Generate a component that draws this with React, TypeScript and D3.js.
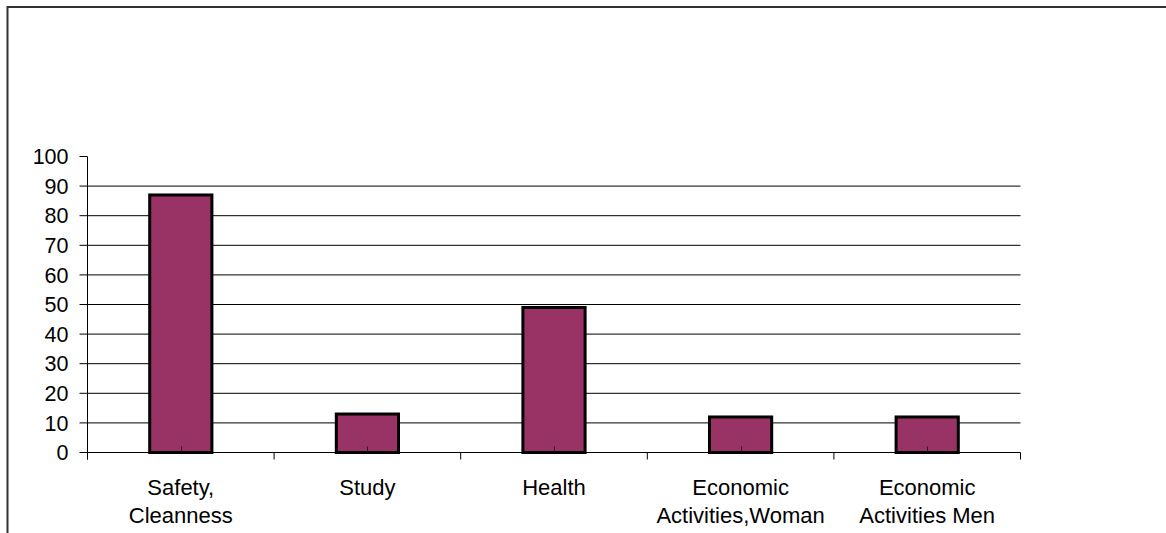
import React from "react";
import * as d3 from "d3";

// Category labels (each split into its display lines) and their values
const categories: string[][] = [
  ["Safety,", "Cleanness"],
  ["Study"],
  ["Health"],
  ["Economic", "Activities,Woman"],
  ["Economic", "Activities Men"],
];
const values: number[] = [87, 13, 49, 12, 12];
const yTicks: number[] = [0, 10, 20, 30, 40, 50, 60, 70, 80, 90, 100];

const W = 1166;
const H = 533;
const FONT = "'Liberation Sans', Arial, sans-serif";

export default function App() {
  const left = 87.5;
  const right = 1020.5;
  const top = 156.5;
  const bottom = 452.5;

  const keys = categories.map((_, i) => String(i));
  const x = d3.scaleBand<string>().domain(keys).range([left, right]).paddingInner(0).paddingOuter(0);
  const y = d3.scaleLinear().domain([0, 100]).range([bottom, top]);

  const bw = x.bandwidth();
  const barW = bw / 3;
  const boundaries = keys.map((k) => x(k) as number).concat([right]);

  return (
    <svg
      width={W}
      height={H}
      style={{ position: "absolute", left: 0, top: 0, background: "#fff" }}
      fontFamily={FONT}
    >
      {/* chart frame (extends past the visible area) */}
      <rect x={7.5} y={7} width={1400} height={800} fill="none" stroke="#333" strokeWidth={2} />

      {/* horizontal gridlines (none at the top value) */}
      {yTicks
        .filter((t) => t !== 0 && t !== 100)
        .map((t) => (
          <line key={"g" + t} x1={left} x2={right} y1={y(t)} y2={y(t)} stroke="#000" strokeWidth={1} />
        ))}

      {/* bars */}
      {values.map((v, i) => {
        const cx = (x(String(i)) as number) + bw / 2;
        return (
          <g key={"b" + i}>
            <rect
              x={cx - barW / 2}
              y={y(v)}
              width={barW}
              height={y(0) - y(v)}
              fill="#993366"
              stroke="#000"
              strokeWidth={3}
            />
            {/* small centre mark rising from the baseline */}
            <line x1={Math.round(cx) + 0.5} x2={Math.round(cx) + 0.5} y1={y(0) - 6} y2={y(0)} stroke="#222" strokeWidth={1} />
          </g>
        );
      })}

      {/* baseline */}
      <line x1={left} x2={right} y1={y(0)} y2={y(0)} stroke="#000" strokeWidth={1} />

      {/* y axis */}
      <line x1={left} x2={left} y1={top} y2={bottom + 7} stroke="#000" strokeWidth={1} />
      {yTicks.map((t) => (
        <g key={"t" + t}>
          <line x1={left - 8} x2={left} y1={y(t)} y2={y(t)} stroke="#000" strokeWidth={1} />
          <text x={68.5} y={y(t)} dy="0.36em" textAnchor="end" fontSize={21.5} fill="#000">
            {t}
          </text>
        </g>
      ))}

      {/* x axis ticks at category boundaries */}
      {boundaries.map((bx, i) => (
        <line key={"xt" + i} x1={bx} x2={bx} y1={y(0)} y2={y(0) + 7} stroke="#000" strokeWidth={1} />
      ))}

      {/* category labels */}
      {categories.map((lines, i) => {
        const cx = (x(String(i)) as number) + bw / 2;
        return (
          <text key={"c" + i} x={cx} y={495} textAnchor="middle" fontSize={22} fill="#000">
            {lines.map((ln, j) => (
              <tspan key={j} x={cx} dy={j === 0 ? 0 : 28.3}>
                {ln}
              </tspan>
            ))}
          </text>
        );
      })}
    </svg>
  );
}
